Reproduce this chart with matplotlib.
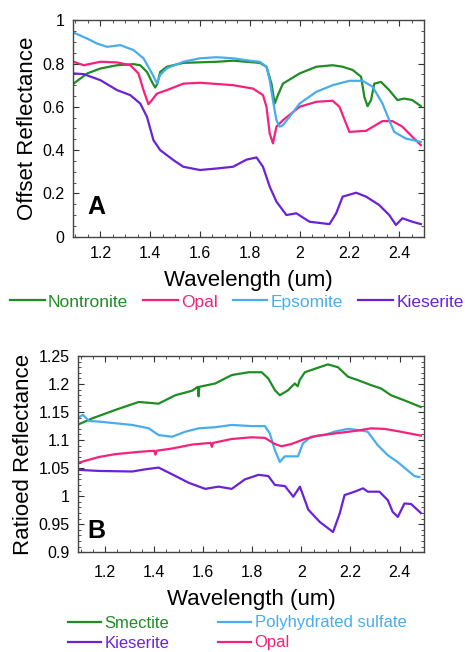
import numpy as np
import matplotlib.pyplot as plt
from matplotlib.ticker import MultipleLocator, FormatStrFormatter

plt.rcParams['font.family'] = ['Liberation Sans', 'DejaVu Sans']

# Panel A: offset reflectance spectra
non_wl = [1.092, 1.147, 1.2, 1.267, 1.333, 1.36, 1.387, 1.407, 1.42, 1.429, 1.44, 1.467, 1.533, 1.667,
          1.733, 1.84, 1.867, 1.887, 1.9, 1.913, 1.933, 2.0, 2.067, 2.133, 2.173, 2.213, 2.247, 2.26,
          2.273, 2.287, 2.3, 2.327, 2.36, 2.393, 2.42, 2.453, 2.487]
non_r = [0.707, 0.754, 0.777, 0.792, 0.797, 0.792, 0.761, 0.715, 0.689, 0.707, 0.761, 0.785, 0.803, 0.808,
         0.813, 0.803, 0.785, 0.707, 0.615, 0.654, 0.707, 0.754, 0.785, 0.792, 0.785, 0.770, 0.739, 0.646,
         0.603, 0.631, 0.707, 0.715, 0.677, 0.631, 0.638, 0.631, 0.603]

opal_wl = [1.092, 1.133, 1.2, 1.267, 1.32, 1.353, 1.373, 1.393, 1.407, 1.427, 1.467, 1.533, 1.6, 1.733,
           1.813, 1.853, 1.867, 1.88, 1.893, 1.907, 1.933, 2.0, 2.067, 2.133, 2.16, 2.2, 2.267, 2.333,
           2.373, 2.413, 2.453, 2.487]
opal_r = [0.808, 0.792, 0.808, 0.805, 0.792, 0.754, 0.677, 0.612, 0.631, 0.661, 0.677, 0.707, 0.711, 0.700,
          0.684, 0.654, 0.600, 0.477, 0.431, 0.508, 0.538, 0.600, 0.623, 0.628, 0.600, 0.484, 0.489, 0.534,
          0.534, 0.508, 0.461, 0.423]

eps_wl = [1.092, 1.147, 1.187, 1.227, 1.28, 1.333, 1.373, 1.407, 1.427, 1.44, 1.467, 1.533, 1.6, 1.667,
          1.733, 1.8, 1.84, 1.867, 1.88, 1.893, 1.907, 1.92, 1.933, 1.96, 2.0, 2.067, 2.133, 2.2, 2.253,
          2.293, 2.333, 2.36, 2.38, 2.427, 2.487]
eps_r = [0.943, 0.915, 0.892, 0.877, 0.885, 0.862, 0.824, 0.755, 0.709, 0.747, 0.778, 0.808, 0.824, 0.829,
         0.824, 0.813, 0.808, 0.785, 0.723, 0.630, 0.538, 0.508, 0.515, 0.554, 0.615, 0.669, 0.700, 0.720, 0.720,
         0.693, 0.615, 0.538, 0.484, 0.453, 0.438]

kie_wl = [1.092, 1.133, 1.2, 1.267, 1.32, 1.36, 1.387, 1.413, 1.44, 1.493, 1.533, 1.6, 1.667, 1.733,
          1.787, 1.827, 1.853, 1.88, 1.907, 1.947, 1.987, 2.04, 2.12, 2.147, 2.173, 2.227, 2.267, 2.32,
          2.36, 2.387, 2.413, 2.453, 2.487]
kie_r = [0.754, 0.751, 0.723, 0.677, 0.654, 0.615, 0.554, 0.446, 0.400, 0.354, 0.323, 0.308, 0.315, 0.323,
         0.356, 0.366, 0.323, 0.231, 0.162, 0.100, 0.108, 0.069, 0.058, 0.108, 0.185, 0.203, 0.185, 0.146,
         0.100, 0.054, 0.085, 0.069, 0.058]

# Panel B: ratioed reflectance spectra
sme_wl = [1.086, 1.149, 1.243, 1.337, 1.418, 1.486, 1.554, 1.578, 1.581, 1.584, 1.649, 1.716, 1.784, 1.838,
          1.865, 1.892, 1.912, 1.946, 1.973, 1.985, 1.993, 2.014, 2.054, 2.108, 2.149, 2.19, 2.23, 2.284,
          2.325, 2.365, 2.419, 2.487]
sme_r = [1.127, 1.139, 1.154, 1.168, 1.165, 1.180, 1.188, 1.195, 1.178, 1.195, 1.201, 1.216, 1.221, 1.221,
         1.210, 1.189, 1.180, 1.189, 1.201, 1.196, 1.207, 1.221, 1.227, 1.235, 1.230, 1.213, 1.207, 1.198,
         1.192, 1.180, 1.171, 1.159]

poly_wl = [1.086, 1.11, 1.135, 1.176, 1.243, 1.311, 1.378, 1.418, 1.473, 1.527, 1.581, 1.649, 1.716, 1.797,
           1.851, 1.871, 1.892, 1.912, 1.932, 1.959, 1.986, 2.006, 2.04, 2.094, 2.135, 2.189, 2.23, 2.27,
           2.311, 2.352, 2.392, 2.433, 2.46, 2.481]
poly_r = [1.139, 1.145, 1.134, 1.133, 1.130, 1.127, 1.121, 1.109, 1.106, 1.115, 1.121, 1.123, 1.127, 1.125,
          1.125, 1.112, 1.082, 1.061, 1.071, 1.071, 1.071, 1.094, 1.106, 1.109, 1.115, 1.120, 1.118, 1.115,
          1.091, 1.073, 1.061, 1.046, 1.036, 1.034]

opalb_wl = [1.086, 1.176, 1.243, 1.337, 1.40, 1.405, 1.41, 1.473, 1.554, 1.63, 1.635, 1.64, 1.716, 1.797,
            1.851, 1.892, 1.919, 1.959, 2.014, 2.067, 2.121, 2.176, 2.23, 2.284, 2.338, 2.392, 2.487]
opalb_r = [1.059, 1.070, 1.075, 1.079, 1.081, 1.074, 1.081, 1.085, 1.092, 1.095, 1.088, 1.095, 1.102, 1.105,
           1.104, 1.093, 1.089, 1.093, 1.102, 1.108, 1.111, 1.114, 1.117, 1.121, 1.120, 1.116, 1.108]

kieb_wl = [1.086, 1.176, 1.311, 1.365, 1.418, 1.473, 1.54, 1.608, 1.662, 1.716, 1.77, 1.825, 1.865, 1.892,
           1.933, 1.967, 1.994, 2.028, 2.075, 2.129, 2.156, 2.176, 2.217, 2.251, 2.271, 2.318, 2.352, 2.372,
           2.393, 2.42, 2.447, 2.487]
kieb_r = [1.047, 1.045, 1.044, 1.048, 1.051, 1.039, 1.024, 1.013, 1.017, 1.013, 1.030, 1.038, 1.036, 1.020,
          1.018, 0.999, 1.017, 0.976, 0.954, 0.936, 0.969, 1.002, 1.008, 1.014, 1.008, 1.008, 0.993, 0.972,
          0.963, 0.987, 0.986, 0.970]

green = '#1f8c24'
pink = '#f5217a'
blue = '#48acef'
purple = '#6a22d8'

fig = plt.figure(figsize=(4.65, 6.52), dpi=100)
ax1 = fig.add_axes([0.157, 0.637, 0.755, 0.332])
ax2 = fig.add_axes([0.168, 0.153, 0.744, 0.301])

ax1.plot(non_wl, non_r, color=green, lw=1.6, label='Nontronite')
ax1.plot(opal_wl, opal_r, color=pink, lw=1.6, label='Opal')
ax1.plot(eps_wl, eps_r, color=blue, lw=1.6, label='Epsomite')
ax1.plot(kie_wl, kie_r, color=purple, lw=1.6, label='Kieserite')
ax1.set_xlim(1.09, 2.5)
ax1.set_ylim(0, 1)
ax1.yaxis.set_major_locator(MultipleLocator(0.2))
ax1.yaxis.set_minor_locator(MultipleLocator(0.05))
ax1.set_ylabel('Offset Reflectance', fontsize=16, labelpad=3)
ax1.text(0.04, 0.105, 'A', transform=ax1.transAxes, fontsize=18, fontweight='bold')

ax2.plot(sme_wl, sme_r, color=green, lw=1.6, label='Smectite')
ax2.plot(kieb_wl, kieb_r, color=purple, lw=1.6, label='Kieserite')
ax2.plot(poly_wl, poly_r, color=blue, lw=1.6, label='Polyhydrated sulfate')
ax2.plot(opalb_wl, opalb_r, color=pink, lw=1.6, label='Opal')
ax2.set_xlim(1.09, 2.5)
ax2.set_ylim(0.9, 1.25)
ax2.yaxis.set_major_locator(MultipleLocator(0.05))
ax2.yaxis.set_minor_locator(MultipleLocator(0.01))
ax2.set_ylabel('Ratioed Reflectance', fontsize=16, labelpad=3)
ax2.text(0.026, 0.075, 'B', transform=ax2.transAxes, fontsize=18, fontweight='bold')

for ax in (ax1, ax2):
    ax.xaxis.set_major_locator(MultipleLocator(0.2))
    ax.xaxis.set_minor_locator(MultipleLocator(0.05))
    ax.xaxis.set_major_formatter(FormatStrFormatter('%g'))
    ax.yaxis.set_major_formatter(FormatStrFormatter('%g'))
    ax.tick_params(which='both', direction='in', top=True, right=True, labelsize=11.5, color='#333333')
    ax.tick_params(which='major', length=4, pad=6)
    ax.tick_params(which='minor', length=2.5)
    for s in ax.spines.values():
        s.set_color('#444444')
        s.set_linewidth(1.0)

ax1.tick_params(axis='x', which='major', pad=7)
ax1.set_xlabel('Wavelength (um)', fontsize=16, labelpad=6)
ax2.tick_params(axis='x', which='major', pad=9)
ax2.set_xlabel('Wavelength (um)', fontsize=16, labelpad=7)

leg1 = fig.legend(*ax1.get_legend_handles_labels(), loc='center', bbox_to_anchor=(0.509, 1 - 302 / 652),
                  ncol=4, frameon=False, fontsize=12.5, handlelength=2.0, handletextpad=0.2,
                  columnspacing=0.85, borderaxespad=0)
for t, l in zip(leg1.get_texts(), leg1.get_lines()):
    t.set_color(l.get_color())

leg2 = fig.legend(*ax2.get_legend_handles_labels(), loc='center', bbox_to_anchor=(0.51, 1 - 633 / 652),
                  ncol=2, frameon=False, fontsize=12, handlelength=2.0, handletextpad=0.2,
                  columnspacing=2.9, labelspacing=0.3, borderaxespad=0)
for t, l in zip(leg2.get_texts(), leg2.get_lines()):
    t.set_color(l.get_color())

fig.savefig('out.png', dpi=100)
